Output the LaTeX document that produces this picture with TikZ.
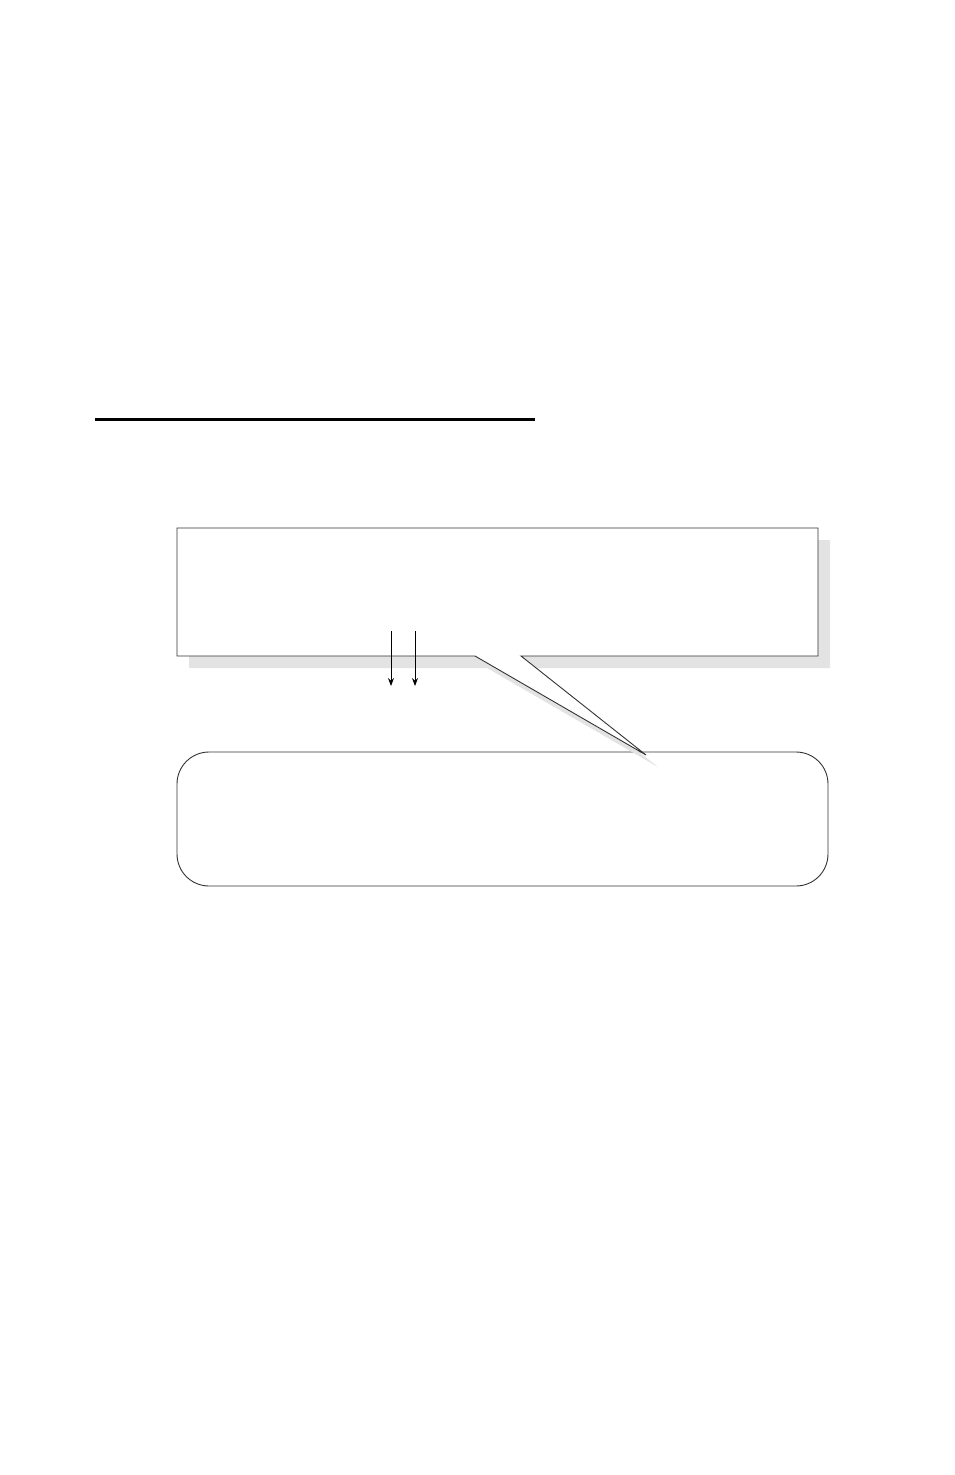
\documentclass[tikz,border=0pt]{standalone}
\usepackage{tikz}
\usetikzlibrary{positioning, arrows.meta, calc, shadows}

\tikzset{
  notebox/.style={rectangle, minimum width=641pt, minimum height=128pt},
  roundbox/.style={draw=black!80, line width=0.9pt, rectangle, rounded corners=32pt,
    fill=white, minimum width=651pt, minimum height=134pt},
  flow/.style={-{Stealth[length=8pt, width=6pt]}, line width=0.9pt},
}

\begin{document}
\begin{tikzpicture}[x=1pt, y=-1pt, every node/.style={inner sep=0pt, outer sep=0pt}]
  \useasboundingbox (0,0) rectangle (954,1475);
  \fill[white] (0,0) rectangle (954,1475);
  % heading rule
  \draw[line width=2.6pt] (95,419.5) -- (535,419.5);
  % boxes
  \node[notebox] (note) at (497.5,592) {};
  \node[roundbox, below right=96pt and 0pt of note.south west] (answer) {};
  % callout outline with its pointer
  \coordinate (pl) at ($(note.south west)+(298,0)$);
  \coordinate (pr) at ($(note.south west)+(344,0)$);
  \coordinate (tip) at (646,755);
  \path[draw=black!80, line width=0.9pt, fill=white,
    drop shadow={shadow xshift=12pt, shadow yshift=-12pt, fill=black!11, opacity=1}]
    (note.north west) -- (note.north east) -- (note.south east)
    -- (pr) -- (tip) -- (pl) -- (note.south west) -- cycle;
  % arrows
  \foreach \x/\n in {391/a, 415/b} {
    \coordinate (\n top) at (\x,631);
    \coordinate (\n end) at (\x,686);
    \draw[flow] (\n top) -- (\n end);
  }
\end{tikzpicture}
\end{document}
